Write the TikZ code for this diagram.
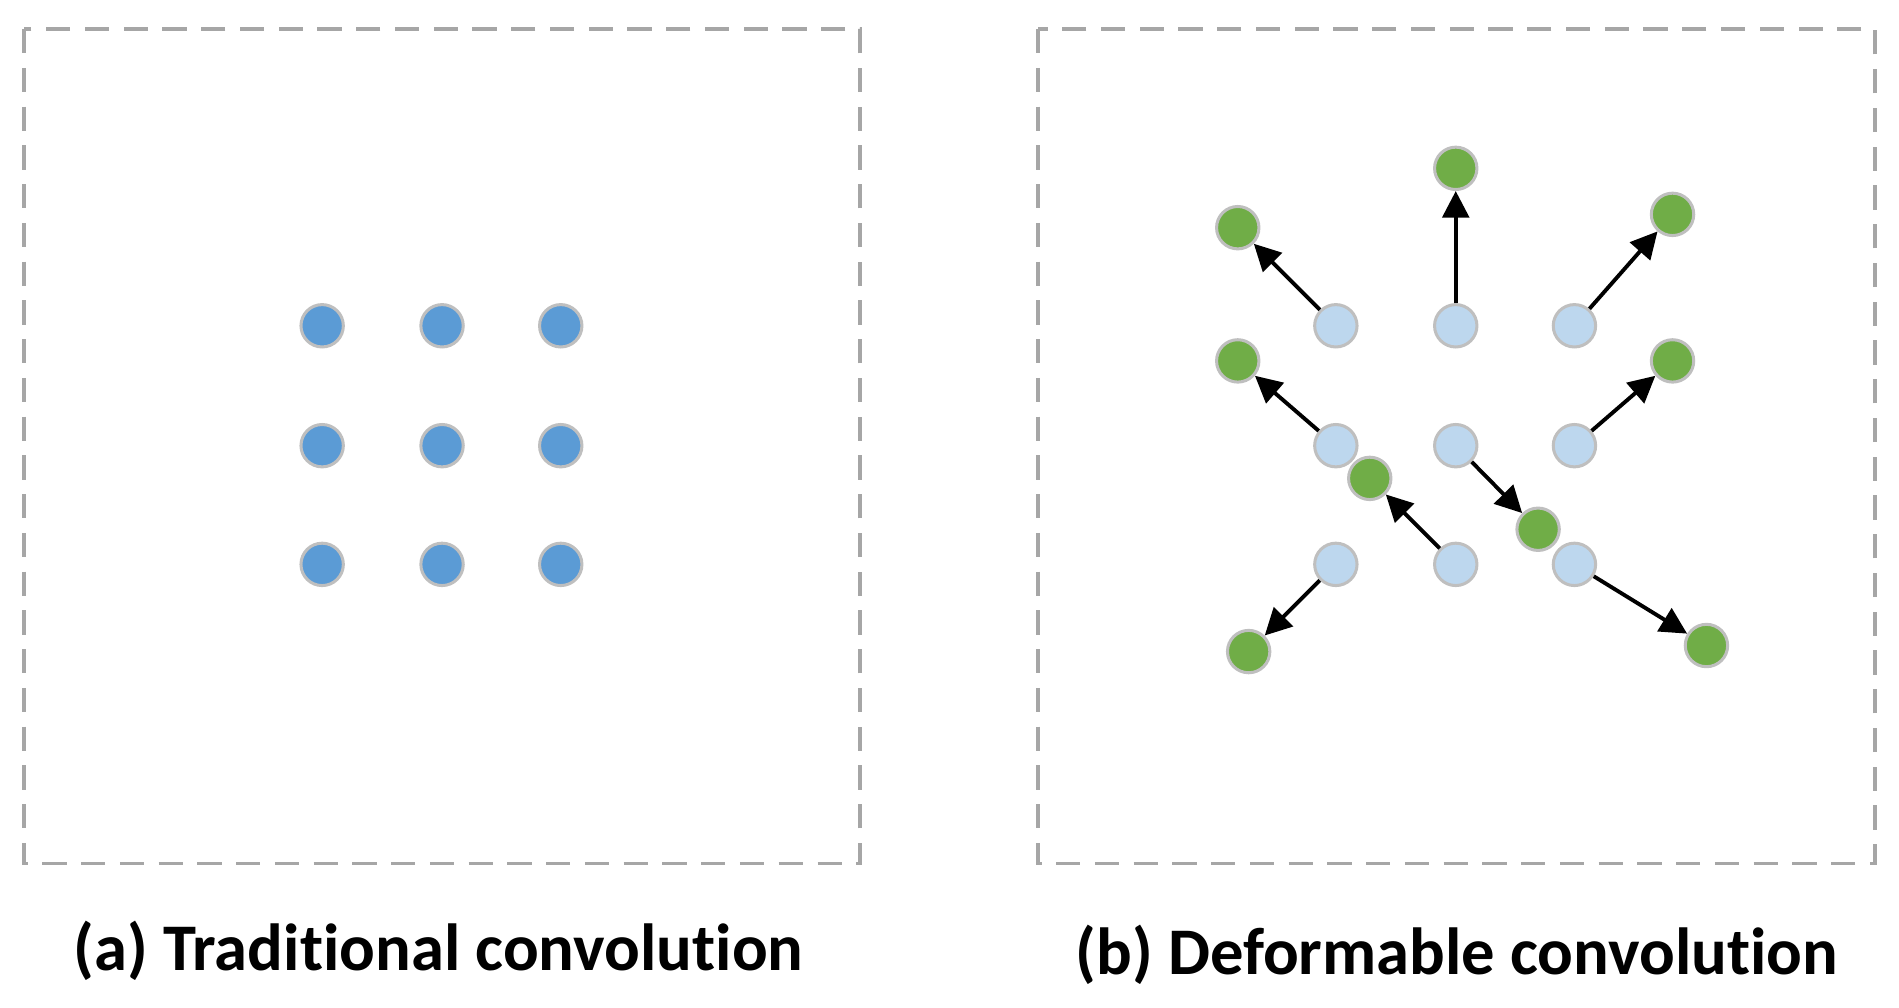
\documentclass[tikz,border=0pt]{standalone}
\usepackage{fontspec}
\setmainfont{Carlito}[Ligatures=NoCommon]
\usetikzlibrary{arrows.meta}
\definecolor{bdot}{HTML}{5B9BD5}
\definecolor{ldot}{HTML}{BDD7EE}
\definecolor{gdot}{HTML}{70AD47}
\definecolor{edge}{HTML}{BFBFBF}
\definecolor{frame}{HTML}{A6A6A6}
\begin{document}
\begin{tikzpicture}[x=1pt,y=-1pt,
  dot/.style={circle,draw=edge,line width=2.5pt,minimum size=35pt,inner sep=0pt},
  blue/.style={dot,fill=bdot},
  light/.style={dot,fill=ldot},
  green/.style={dot,fill=gdot},
  box/.style={draw=frame,line width=3pt,dash pattern=on 20pt off 12pt},
  arr/.style={-{Triangle[length=22pt,width=22pt]},line width=3.2pt,black},
  lab/.style={font=\bfseries\fontsize{55}{60}\selectfont}]
\useasboundingbox (0,0) rectangle (1568,832);
\draw[box] (20,24) rectangle (710,713);
\draw[box] (857,24) rectangle (1548,713);
\foreach \i/\x in {1/266,2/365,3/463}
  \foreach \j/\y in {1/269,2/368,3/466}
    \node[blue] (a\i\j) at (\x,\y) {};
\foreach \i/\x in {1/1103,2/1202,3/1300}
  \foreach \j/\y in {1/269,2/368,3/466}
    \node[light] (b\i\j) at (\x,\y) {};
\node[green] (g11) at (1022,188) {};
\node[green] (g21) at (1202,139) {};
\node[green] (g31) at (1381,177) {};
\node[green] (g12) at (1022,298) {};
\node[green] (g32) at (1381,298) {};
\node[green] (g23) at (1131,395) {};
\node[green] (g22) at (1270,437) {};
\node[green] (g13) at (1031,538) {};
\node[green] (g33) at (1409,533) {};
\foreach \n in {11,21,31,12,32,22,23,13,33}
  \draw[arr] (b\n) -- (g\n);
\node[lab] (la) at (362,785) {(a) Traditional convolution};
\node[lab] (lb) at (1203,788) {(b) Deformable convolution};
\end{tikzpicture}
\end{document}
